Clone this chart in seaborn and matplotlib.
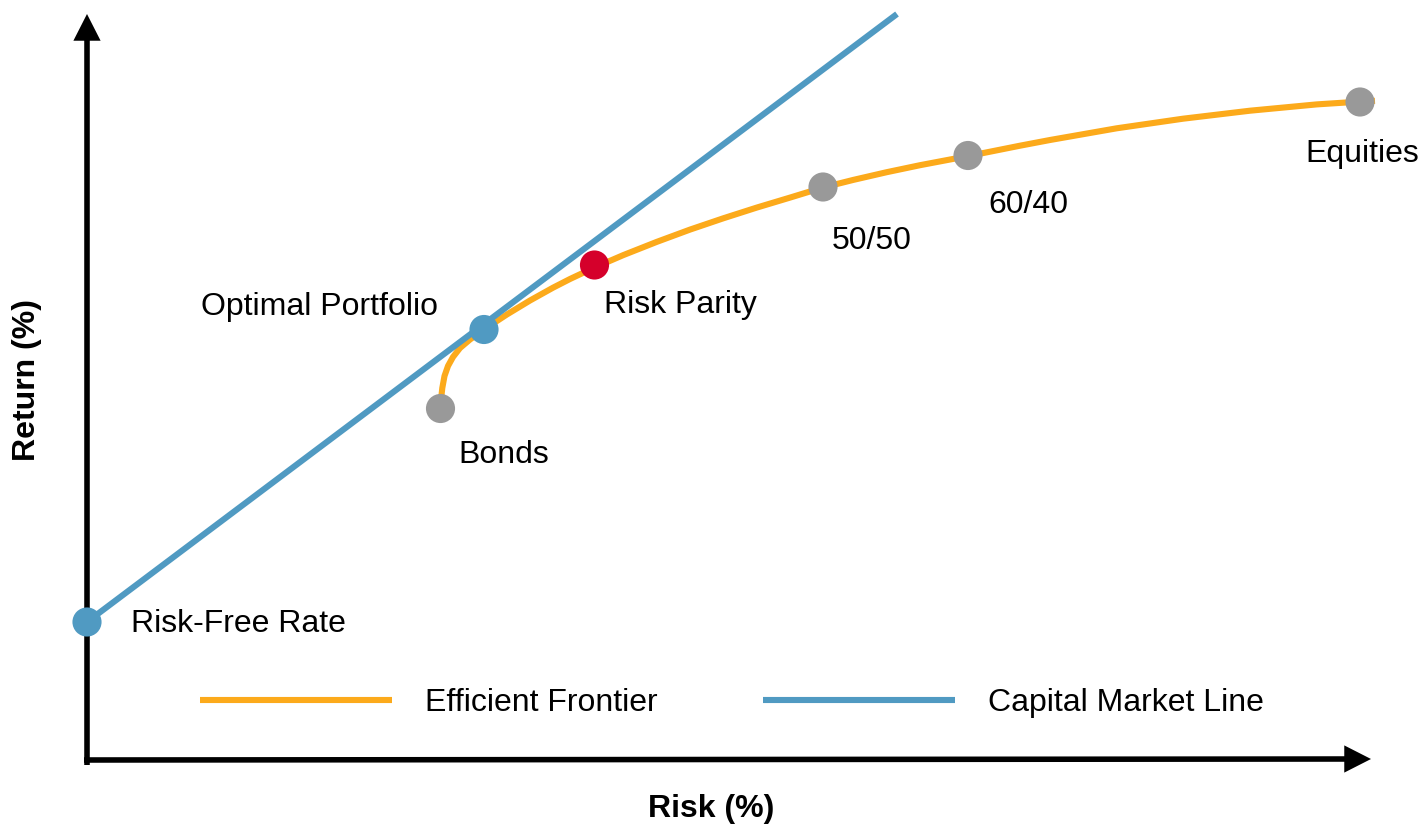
import matplotlib
matplotlib.use("Agg")
import matplotlib.pyplot as plt
import seaborn as sns
import pandas as pd

# Efficient frontier traced from the minimum-risk bond portfolio to all-equities
frontier_risk = [7.074, 7.084, 7.106, 7.15, 7.22, 7.32, 7.46, 7.66, 7.94, 8.394,
                 8.86, 9.32, 9.66, 10.15, 10.726, 11.394, 12.06, 12.726, 13.394,
                 14.06, 14.72, 15.326, 15.994, 16.66, 17.62, 18.66, 19.26, 20.594,
                 21.92, 23.26, 24.594, 25.46, 25.76]
frontier_return = [7.034, 7.24, 7.44, 7.68, 7.88, 8.06, 8.24, 8.41, 8.61, 8.908,
                   9.19, 9.446, 9.62, 9.85, 10.098, 10.362, 10.608, 10.834, 11.048,
                   11.248, 11.45, 11.602, 11.756, 11.896, 12.078, 12.286, 12.40,
                   12.634, 12.826, 12.986, 13.112, 13.168, 13.184]

# Capital market line: from the risk-free rate through the tangency portfolio
cml_risk = [0.0, 16.2]
cml_return = [2.76, 14.92]

# Named portfolios
portfolio_names = ["Risk-Free Rate", "Bonds", "Optimal Portfolio", "Risk Parity",
                   "50/50", "60/40", "Equities"]
portfolio_risk = [0.0, 7.07, 7.94, 10.15, 14.72, 17.62, 25.46]
portfolio_return = [2.76, 7.03, 8.61, 9.90, 11.46, 12.09, 13.16]
portfolio_kind = ["cml", "asset", "cml", "rp", "asset", "asset", "asset"]

ORANGE = "#FCAA1B"
BLUE = "#509AC2"
RED = "#D5002B"
GRAY = "#999999"

sns.set_style("white")
plt.rcParams["font.family"] = ["Liberation Sans", "DejaVu Sans"]
plt.rcParams["text.color"] = "black"

W, H, DPI = 1422, 825, 100
fig = plt.figure(figsize=(W / DPI, H / DPI), dpi=DPI)
ax = fig.add_axes([0, 0, 1, 1])
# One data unit = 50 px; origin of the risk/return axes at (87, 760) px
ax.set_xlim(-87 / 50, (W - 87) / 50)
ax.set_ylim((760 - H) / 50, 760 / 50)
ax.axis("off")

frontier = pd.DataFrame({"risk": frontier_risk, "ret": frontier_return})
cml = pd.DataFrame({"risk": cml_risk, "ret": cml_return})
pts = pd.DataFrame({"name": portfolio_names, "risk": portfolio_risk,
                    "ret": portfolio_return, "kind": portfolio_kind})

line_kw = dict(sort=False, estimator=None, linewidth=4.4,
               solid_capstyle="butt", solid_joinstyle="round")
sns.lineplot(data=frontier, x="risk", y="ret", ax=ax, color=ORANGE,
             label="Efficient Frontier", zorder=2, **line_kw)
sns.lineplot(data=cml, x="risk", y="ret", ax=ax, color=BLUE,
             label="Capital Market Line", zorder=3, **line_kw)

sns.scatterplot(data=pts, x="risk", y="ret", hue="kind", ax=ax,
                palette={"cml": BLUE, "asset": GRAY, "rp": RED},
                s=440, linewidth=0, legend=False, zorder=5)

# Axes drawn as arrows: a plain shaft plus a filled triangular head
shaft = dict(arrowstyle="-", color="black", lw=4.0, shrinkA=0, shrinkB=0,
             capstyle="butt")
head = dict(arrowstyle="-|>,head_length=0.55,head_width=0.28", color="black",
            lw=0, shrinkA=0, shrinkB=0, mutation_scale=35)
x_tip, y_tip = (25.68, 0.02), (0.0, 14.92)
ax.annotate("", xy=(25.3, 0.02), xytext=(-0.06, 0.0), arrowprops=shaft, zorder=1)
ax.annotate("", xy=x_tip, xytext=(25.0, 0.02), arrowprops=head, zorder=1)
ax.annotate("", xy=(0.0, 14.6), xytext=(0.0, -0.1), arrowprops=shaft, zorder=1)
ax.annotate("", xy=y_tip, xytext=(0.0, 14.2), arrowprops=head, zorder=1)

# Portfolio labels
label_style = {
    "Risk-Free Rate": dict(offset=(31.5, -1.5), ha="left"),
    "Bonds": dict(offset=(13, -33.5), ha="left"),
    "Optimal Portfolio": dict(offset=(-33, 16.5), ha="right"),
    "Risk Parity": dict(offset=(7, -29), ha="left"),
    "50/50": dict(offset=(6.5, -39), ha="left"),
    "60/40": dict(offset=(14.4, -35.5), ha="left"),
    "Equities": dict(offset=(-39.6, -37.3), ha="left"),
}
for name, r, m in zip(portfolio_names, portfolio_risk, portfolio_return):
    st = label_style[name]
    ax.annotate(name, xy=(r, m), xytext=st["offset"], textcoords="offset points",
                ha=st["ha"], va="center", fontsize=23, color="black", zorder=6)

leg = ax.legend(ncol=2, frameon=False, loc="center left",
                bbox_to_anchor=(200 / W, 1 - 703 / H), bbox_transform=fig.transFigure,
                fontsize=23, handlelength=6.0, handletextpad=1.05,
                columnspacing=3.3, borderpad=0, borderaxespad=0)
for t in leg.get_texts():
    t.set_color("black")

fig.text(711 / W, 1 - 809 / H, "Risk (%)", ha="center", va="center",
         fontsize=23, fontweight="bold", color="black")
fig.text(27 / W, 1 - 380 / H, "Return (%)", ha="center", va="center",
         fontsize=23, fontweight="bold", rotation=90, color="black")

fig.savefig("out.png", dpi=DPI, facecolor="white")
